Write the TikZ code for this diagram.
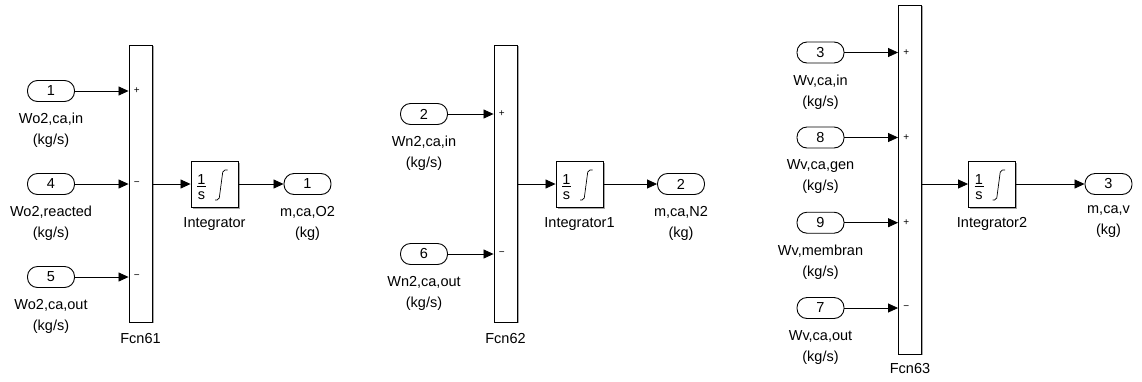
\documentclass[tikz,border=0pt]{standalone}
\usepackage{fontspec}
\setmainfont{Liberation Sans}
\usetikzlibrary{arrows.meta,positioning,shadows,calc}

\tikzset{
  port/.style={draw, line width=0.9pt, rounded corners=10pt, minimum width=47pt, minimum height=21pt, inner sep=0pt},
  bar/.style={draw, fill=white, line width=0.9pt, minimum width=23pt, inner sep=0pt,
    drop shadow={shadow xshift=1.6pt, shadow yshift=-1.2pt, fill=black, opacity=0.35}},
  integ/.style={draw, fill=white, line width=0.9pt, minimum width=47pt, minimum height=46pt, inner sep=0pt,
    drop shadow={shadow xshift=1.6pt, shadow yshift=-1.6pt, fill=black, opacity=0.35}},
  lbl/.style={align=center, inner sep=0pt},
  sgn/.style={font=\fontsize{10}{10}\selectfont, inner sep=0pt},
  sig/.style={line width=0.8pt, -{Triangle[length=10pt,width=9pt]}},
}

\begin{document}
\begin{tikzpicture}[x=1pt, y=-1pt, font=\fontsize{14.5}{21}\selectfont]
\useasboundingbox (0,0) rectangle (1142,381);

% Fcn61 : oxygen
\node[bar, minimum height=277pt] (f1) at (140.5,183.5) {};
\node[below=10.5pt of f1, inner sep=0pt] (f1-lbl) {Fcn61};
\foreach \n/\y/\s/\txt in {1/91/+/{Wo2,ca,in}, 4/184/−/{Wo2,reacted}, 5/277/−/{Wo2,ca,out}} {
  \node[port] (a\n) at (51,\y) {\n};
  \node[lbl, below=11pt of a\n] (a\n-lbl) {\txt\\(kg/s)};
  \draw[sig] (a\n) -- (a\n -| f1.west) node[sgn, right=5pt] (a\n-sgn) {\s};
}
\node[integ] (i1) at (214.5,184) {};
\node[below=10pt of i1, inner sep=0pt] (i1-lbl) {Integrator};
\node[port] (o1) at (307.5,184) {1};
\node[lbl, below=11pt of o1] (o1-lbl) {m,ca,O2\\(kg)};
\draw[sig] (f1.east |- i1) -- (i1);
\draw[sig] (i1) -- (o1);

% Fcn62 : nitrogen
\node[bar, minimum height=277pt] (f2) at (505.5,183.5) {};
\node[below=10.5pt of f2, inner sep=0pt] (f2-lbl) {Fcn62};
\foreach \n/\y/\s/\txt in {2/114/+/{Wn2,ca,in}, 6/254/−/{Wn2,ca,out}} {
  \node[port] (b\n) at (424,\y) {\n};
  \node[lbl, below=11pt of b\n] (b\n-lbl) {\txt\\(kg/s)};
  \draw[sig] (b\n) -- (b\n -| f2.west) node[sgn, right=5pt] (b\n-sgn) {\s};
}
\node[integ] (i2) at (579.5,184) {};
\node[below=10pt of i2, inner sep=0pt] (i2-lbl) {Integrator1};
\node[port] (o2) at (681,184) {2};
\node[lbl, below=11pt of o2] (o2-lbl) {m,ca,N2\\(kg)};
\draw[sig] (f2.east |- i2) -- (i2);
\draw[sig] (i2) -- (o2);

% Fcn63 : vapour
\node[bar, minimum height=349pt] (f3) at (910,179.5) {};
\node[below=8.5pt of f3, inner sep=0pt] (f3-lbl) {Fcn63};
\foreach \n/\y/\s/\txt in {3/52.5/+/{Wv,ca,in}, 8/137.5/+/{Wv,ca,gen}, 9/222.7/+/{Wv,membran}, 7/308/−/{Wv,ca,out}} {
  \node[port] (c\n) at (820.5,\y) {\n};
  \node[lbl, below=11pt of c\n] (c\n-lbl) {\txt\\(kg/s)};
  \draw[sig] (c\n) -- (c\n -| f3.west) node[sgn, right=5pt] (c\n-sgn) {\s};
}
\node[integ] (i3) at (992,184) {};
\node[below=10pt of i3, inner sep=0pt] (i3-lbl) {Integrator2};
\node[port] (o3) at (1108.5,184) {3};
\node[lbl, below=11pt of o3] (o3-lbl) {m,ca,v\\(kg)};
\draw[sig] (f3.east |- i3) -- (i3);
\draw[sig] (i3) -- (o3);

% 1/s and integral sign inside the integrators
\foreach \i in {i1,i2,i3} {
  \node[anchor=base, inner sep=0pt] (\i-num) at ($(\i)+(-13,0)$) {1};
  \draw[line width=0.7pt] ($(\i)+(-17.5,2.5)$) -- ($(\i)+(-8.5,2.5)$);
  \node[anchor=base, inner sep=0pt] (\i-den) at ($(\i)+(-13,15.5)$) {s};
  \draw[line width=0.7pt, rounded corners=2pt] ($(\i)+(0.5,16)$) -- ($(\i)+(4.5,16)$) -- ($(\i)+(8.5,-14)$) -- ($(\i)+(13,-14)$);
}
\end{tikzpicture}
\end{document}
